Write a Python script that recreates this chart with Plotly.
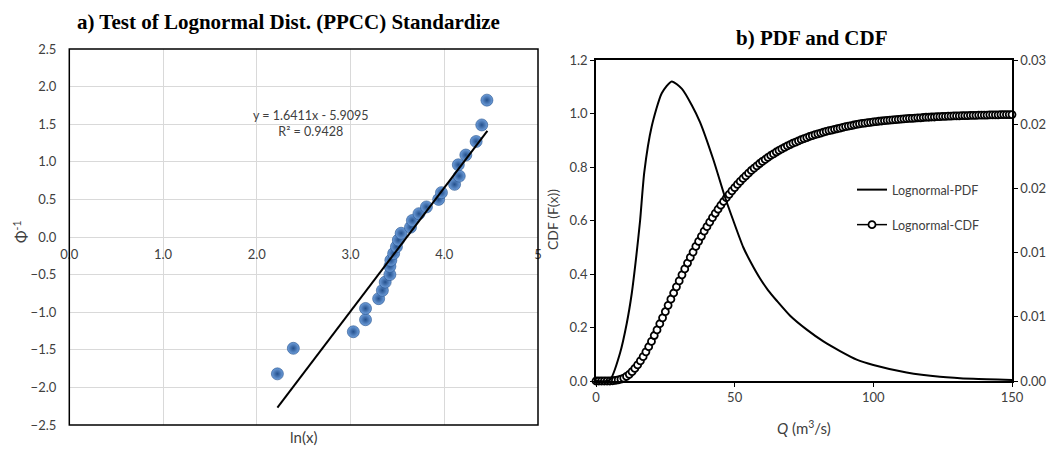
import plotly.graph_objects as go

W, H = 1060, 449


def px(x):
    return x / W


def py(y):
    return 1 - y / H


# ---- Panel a: PPCC test data ----
ln_x = [2.22, 2.39, 3.03, 3.16, 3.16, 3.30, 3.34, 3.37, 3.42, 3.42, 3.43, 3.46, 3.49, 3.51,
        3.54, 3.64, 3.66, 3.73, 3.81, 3.94, 3.97, 4.11, 4.16, 4.15, 4.23, 4.34, 4.40, 4.455]
phi_inv = [-1.82, -1.48, -1.26, -1.10, -0.95, -0.82, -0.71, -0.60, -0.50, -0.39, -0.31, -0.22, -0.13, -0.04,
           0.05, 0.13, 0.22, 0.31, 0.40, 0.50, 0.59, 0.70, 0.81, 0.96, 1.09, 1.27, 1.49, 1.82]
trend_x = [2.22, 4.46]
trend_y = [-2.27, 1.41]
eq_text = "y = 1.6411x - 5.9095"
r2_text = "R² = 0.9428"
a_xticks = [0, 1, 2, 3, 4, 5]
a_xticklabels = ["0.0", "1.0", "2.0", "3.0", "4.0", "5"]

# ---- Panel b: PDF and CDF ----
q_pdf = [0, 5.0, 8.65, 11.1, 12.9, 14.5, 15.9, 17.4, 20.1, 23.7, 27.3, 31.0, 34.5, 37.5, 42.3, 46.5,
         49.5, 53.1, 56.0, 59.1, 62.0, 65.2, 70.0, 76.0, 82.0, 88.0, 94.0, 100, 112, 124, 136, 150]
pdf = [0, 0.0001, 0.0026, 0.0054, 0.0082, 0.0116, 0.0150, 0.0195, 0.0238, 0.0269, 0.0280, 0.0273,
       0.0258, 0.0242, 0.0207, 0.0172, 0.0150, 0.0125, 0.0110, 0.0096, 0.0085, 0.0075, 0.0061,
       0.0048, 0.0037, 0.0028, 0.0020, 0.0015, 0.0008, 0.0004, 0.0002, 0.0001]

q_cdf = list(range(0, 151))
cdf = [0.000, 0.000, 0.000, 0.000, 0.000, 0.000, 0.001, 0.002, 0.004, 0.007,
       0.011, 0.017, 0.025, 0.035, 0.047, 0.060, 0.075, 0.091, 0.109, 0.128,
       0.148, 0.170, 0.191, 0.214, 0.236, 0.259, 0.283, 0.306, 0.329, 0.352,
       0.374, 0.397, 0.419, 0.441, 0.462, 0.482, 0.503, 0.522, 0.541, 0.560,
       0.577, 0.594, 0.611, 0.627, 0.642, 0.657, 0.671, 0.685, 0.698, 0.711,
       0.723, 0.735, 0.746, 0.757, 0.767, 0.777, 0.787, 0.796, 0.804, 0.813,
       0.821, 0.828, 0.836, 0.843, 0.849, 0.856, 0.862, 0.868, 0.873, 0.879,
       0.884, 0.889, 0.893, 0.898, 0.902, 0.906, 0.910, 0.914, 0.917, 0.921,
       0.924, 0.927, 0.930, 0.933, 0.936, 0.938, 0.941, 0.943, 0.945, 0.948,
       0.951, 0.953, 0.955, 0.957, 0.959, 0.961, 0.963, 0.964, 0.966, 0.967,
       0.969, 0.970, 0.971, 0.972, 0.973, 0.974, 0.975, 0.976, 0.977, 0.978,
       0.979, 0.980, 0.981, 0.982, 0.982, 0.983, 0.984, 0.984, 0.985, 0.986,
       0.986, 0.987, 0.987, 0.988, 0.988, 0.989, 0.989, 0.990, 0.990, 0.991,
       0.991, 0.991, 0.992, 0.992, 0.992, 0.993, 0.993, 0.993, 0.994, 0.994,
       0.994, 0.994, 0.995, 0.995, 0.995, 0.995, 0.996, 0.996, 0.996, 0.996,
       0.996]

SANS = "Lato"
SERIF = "Liberation Serif"
GREY = "#404040"

fig = go.Figure()

fig.add_trace(go.Scatter(
    x=ln_x, y=phi_inv, mode="markers", xaxis="x", yaxis="y", showlegend=False,
    marker=dict(size=12, color="#6f9fdc", gradient=dict(type="radial", color="#24508c"),
                line=dict(width=0.6, color="#24508c")),
))
fig.add_trace(go.Scatter(
    x=trend_x, y=trend_y, mode="lines", xaxis="x", yaxis="y", showlegend=False,
    line=dict(color="black", width=2),
))

fig.add_trace(go.Scatter(
    x=q_cdf, y=cdf, mode="lines+markers", xaxis="x2", yaxis="y2", name="Lognormal-CDF",
    legend="legend2", cliponaxis=False,
    line=dict(color="black", width=1.5),
    marker=dict(symbol="circle", size=7, color="white", line=dict(color="black", width=1.8)),
))
fig.add_trace(go.Scatter(
    x=q_pdf, y=pdf, mode="lines", xaxis="x2", yaxis="y3", name="Lognormal-PDF",
    legend="legend",
    line=dict(color="black", width=2, shape="spline", smoothing=0.6),
))

axis_font = dict(family=SANS, size=13, color=GREY)


def ann(text, x, y, size, family=SANS, angle=0, color=GREY):
    return dict(text=text, x=px(x), y=py(y), xref="paper", yref="paper", showarrow=False,
                xanchor="center", yanchor="middle", textangle=angle, align="center",
                font=dict(family=family, size=size, color=color))


fig.update_layout(
    width=W, height=H,
    margin=dict(l=0, r=0, t=0, b=0, autoexpand=False),
    paper_bgcolor="white", plot_bgcolor="white",
    xaxis=dict(domain=[px(69.3), px(538)], range=[0, 5], anchor="free", position=py(237),
               tickvals=a_xticks, ticktext=a_xticklabels, showgrid=True, gridcolor="#d9d9d9",
               gridwidth=1, zeroline=False, showline=False, ticks="", tickfont=axis_font,
               ticklabelstandoff=8, automargin=False),
    yaxis=dict(domain=[py(425), py(49)], range=[-2.5, 2.5], dtick=0.5, tickformat=".1f",
               showgrid=True, gridcolor="#d9d9d9", zeroline=False, showline=False, ticks="",
               tickfont=axis_font, ticklabelstandoff=12, anchor="x", automargin=False),
    xaxis2=dict(domain=[px(596), px(1012)], range=[0, 150], tickvals=[0, 50, 100, 150],
                anchor="y2", showgrid=False, zeroline=False, showline=True, linecolor="black",
                linewidth=1.5, mirror=True, ticks="outside", ticklen=4, tickcolor="black",
                tickfont=axis_font, automargin=False),
    yaxis2=dict(domain=[py(381), py(60)], range=[0, 1.2], dtick=0.2, tickformat=".1f",
                anchor="x2", showgrid=False, zeroline=False, showline=True, linecolor="black",
                linewidth=1.5, ticks="outside", ticklen=4, tickcolor="black", tickfont=axis_font,
                automargin=False),
    yaxis3=dict(range=[0, 0.03], dtick=0.006, tickformat=".2f", overlaying="y2", side="right",
                anchor="x2", showgrid=False, zeroline=False, showline=True, linecolor="black",
                linewidth=1.5, ticks="outside", ticklen=4, tickcolor="black", tickfont=axis_font,
                automargin=False),
    legend=dict(x=px(852), y=py(190), xanchor="left", yanchor="middle", bgcolor="rgba(0,0,0,0)",
                font=dict(family=SANS, size=12.5, color=GREY)),
    legend2=dict(x=px(852), y=py(225), xanchor="left", yanchor="middle", bgcolor="rgba(0,0,0,0)",
                 font=dict(family=SANS, size=12.5, color=GREY)),
    shapes=[dict(type="rect", xref="x domain", yref="y domain", x0=0, x1=1, y0=0, y1=1,
                 line=dict(color="black", width=1.5), layer="above")],
    annotations=[
        ann("<b>a) Test of Lognormal Dist. (PPCC) Standardize</b>", 288, 22, 21, SERIF, color="black"),
        ann("<b>b) PDF and CDF</b>", 811, 38, 21, SERIF, color="black"),
        ann(eq_text + "<br>" + r2_text, 310, 124, 12.5),
        ann("Φ<sup>-1</sup>", 20, 232, 15, angle=-90),
        ann("ln(x)", 303, 437, 15),
        ann("CDF (F(x))", 553, 220, 14, angle=-90),
        ann("<i>Q</i> (m<sup>3</sup>/s)", 804, 427, 15),
    ],
)

fig.write_html("out.html")
